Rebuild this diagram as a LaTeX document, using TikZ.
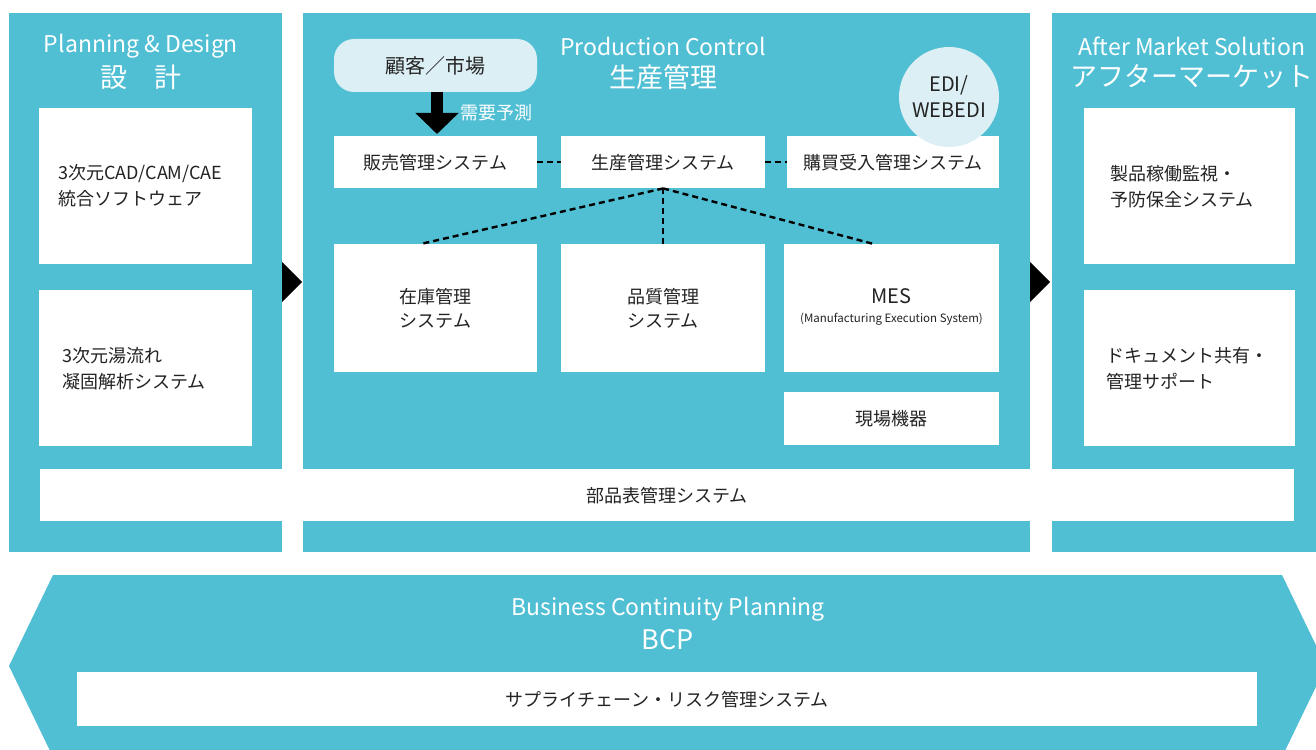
\documentclass[tikz,border=0pt]{standalone}
\usepackage{fontspec}
\setmainfont{Noto Sans CJK JP}
\usetikzlibrary{arrows.meta, positioning}

\definecolor{panelteal}{RGB}{80,191,212}
\definecolor{paleblue}{RGB}{220,239,245}
\definecolor{inktext}{RGB}{35,35,35}
\newcommand{\fsz}[2]{\fontsize{#1}{#2}\selectfont}

\tikzset{
  panel/.style={fill=panelteal},
  sysbox/.style={fill=white, text=inktext, inner sep=0pt, anchor=north west, align=center, font=\fsz{18}{24}},
  sidebox/.style={sysbox, align=left, font=\fsz{18}{26}, minimum height=156},
  heading/.style={text=white, font=\fsz{23}{26}, inner sep=0pt},
  bigheading/.style={text=white, font=\fsz{27}{30}, inner sep=0pt},
  bubble/.style={fill=paleblue, text=inktext, font=\fsz{20}{26}, inner sep=0pt},
  link/.style={line width=2.4pt, dash pattern=on 6pt off 4pt},
  gate/.style={fill=black},
}

\begin{document}
\begin{tikzpicture}[x=1pt, y=-1pt]
\useasboundingbox (0,0) rectangle (1316,749);
\clip (0,0) rectangle (1316,749);

% panels
\fill[panel] (9,13) rectangle (282,552);
\fill[panel] (303,13) rectangle (1030,552);
\fill[panel] (1052,13) rectangle (1316,552);

% gates between panels
\fill[gate] (282,262) -- (302,282) -- (282,302) -- cycle;
\fill[gate] (1030,262) -- (1050,282) -- (1030,302) -- cycle;

% headings
\node[heading] (plantitle) at (141,46) {Planning \& Design};
\node[bigheading] (plankanji) at (141,77) {設　計};
\node[heading] (prodtitle) at (663,46) {Production Control};
\node[bigheading] (prodkanji) at (663,77) {生産管理};
\node[heading] (aftertitle) at (1192,46) {After Market Solution};
\node[bigheading] (afterkanji) at (1192,77) {アフターマーケット};

% planning & design
\node[sidebox, inner xsep=19pt, text width=175pt] (cadsoft) at (39,108) {3次元CAD/CAM/CAE\\統合ソフトウェア};
\node[sidebox, inner xsep=23pt, text width=167pt] (castsim) at (39,290) {3次元湯流れ\\凝固解析システム};

% after market
\node[sidebox, inner xsep=26pt, text width=159pt] (monitor) at (1084,108) {製品稼働監視・\\予防保全システム};
\node[sidebox, inner xsep=22pt, text width=167pt] (docshare) at (1084,290) {ドキュメント共有・\\管理サポート};

% production control
\node[bubble, rounded corners=20pt, minimum width=203, minimum height=53] (kokyaku) at (435.5,65.5) {顧客／市場};

\node[sysbox, minimum width=203, minimum height=52] (hanbai) at (334,136) {販売管理システム};
\node[sysbox, minimum width=204, minimum height=52] (seisan) at (561,136) {生産管理システム};
\node[sysbox, minimum width=212, minimum height=52] (kobai) at (787,136) {購買受入管理システム};
\node[bubble, circle, minimum size=100, align=center] (edi) at (949,97) {EDI/\\WEBEDI};

\node[sysbox, minimum width=203, minimum height=128] (zaiko) at (334,244) {在庫管理\\システム};
\node[sysbox, minimum width=204, minimum height=128] (hinshitsu) at (561,244) {品質管理\\システム};
\node[sysbox, minimum width=215, minimum height=128] (mes) at (784,244) {};
\node[text=inktext, font=\fsz{20}{24}, inner sep=0pt] (mesname) at (891.5,296) {MES};
\node[text=inktext, font=\fsz{11.5}{14}, inner sep=0pt] (mesfull) at (891.5,319) {(Manufacturing Execution System)};
\node[sysbox, minimum width=215, minimum height=53] (genba) at (784,392) {現場機器};

\draw[line width=12pt, -{Triangle[width=42pt, length=21pt]}] (437,92) -- (437,134);
\node[text=white, font=\fsz{18}{20}, inner sep=0pt, anchor=west] (juyou) at (460,113) {需要予測};

\draw[link] (hanbai) -- (seisan);
\draw[link] (seisan) -- (kobai);
\draw[link] (seisan.south) -- ([xshift=-15pt]zaiko.north);
\draw[link] (seisan.south) -- (hinshitsu.north);
\draw[link] (seisan.south) -- ([xshift=-18pt]mes.north);

% bill of materials
\node[sysbox, minimum width=1254, minimum height=52] (buhin) at (40,469) {部品表管理システム};

% business continuity
\fill[panel] (53,575) -- (1282,575) -- (1326,666) -- (1282,757) -- (53,757) -- (9,666) -- cycle;
\node[heading] (bcptitle) at (668,609) {Business Continuity Planning};
\node[bigheading] (bcpshort) at (668,640) {BCP};
\node[sysbox, minimum width=1180, minimum height=54] (supply) at (77,672) {サプライチェーン・リスク管理システム};

\end{tikzpicture}
\end{document}
